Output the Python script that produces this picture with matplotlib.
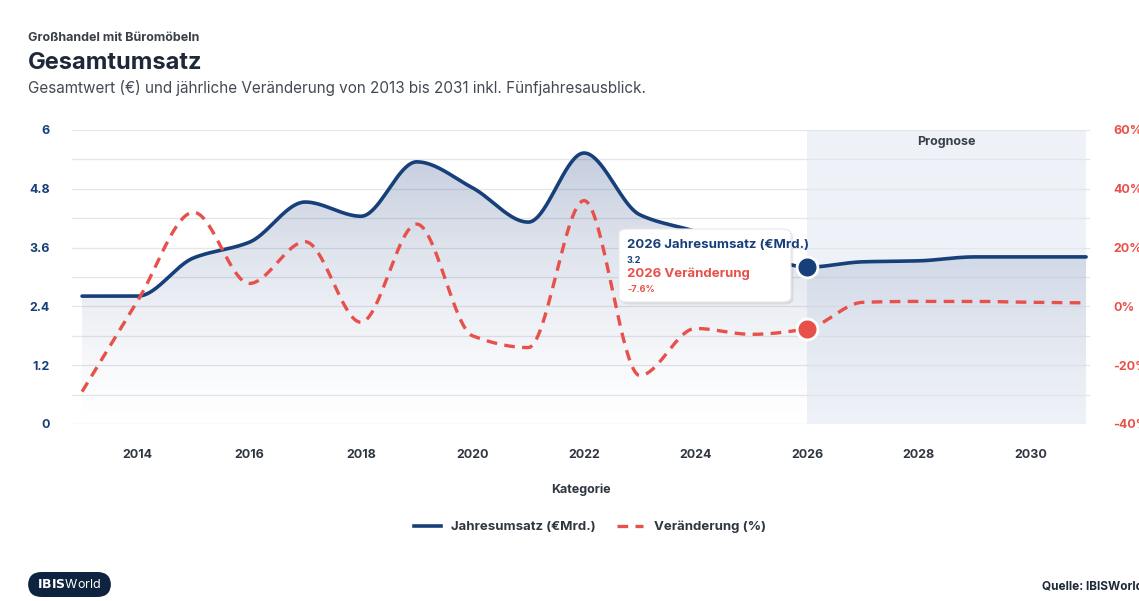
import numpy as np
import matplotlib.pyplot as plt
from matplotlib.patches import FancyBboxPatch
from matplotlib.lines import Line2D

plt.rcParams['font.family'] = ['Inter', 'DejaVu Sans']

# Daten
jahre = np.arange(2013, 2032)
umsatz = [2.61, 2.61, 3.39, 3.71, 4.53, 4.24, 5.35, 4.82, 4.12, 5.53,
          4.27, 3.93, 3.55, 3.2, 3.31, 3.33, 3.41, 3.41, 3.41]
veraenderung = [-29.0, 2.0, 32.0, 7.8, 22.0, -5.4, 28.0, -10.0, -14.0, 36.0,
                -23.5, -7.5, -9.5, -7.6, 1.4, 1.7, 1.7, 1.4, 1.2]
prognose_start = 2026
xticks = [2014, 2016, 2018, 2020, 2022, 2024, 2026, 2028, 2030]
yticks_links = [0, 1.2, 2.4, 3.6, 4.8, 6]
yticks_rechts = [-40, -20, 0, 20, 40, 60]

BLAU = '#173f7a'
ROT = '#e8504a'
GRAU = '#2f3640'

W, H = 1139, 601


def px(x, y):
    return x / W, 1 - y / H


# Monotone kubische Interpolation (wie Spline im Original)
def monotone_spline(x, y, n=40):
    x = np.asarray(x, float)
    y = np.asarray(y, float)
    h = np.diff(x)
    d = np.diff(y) / h
    m = np.zeros_like(y)
    m[0], m[-1] = d[0], d[-1]
    for i in range(1, len(y) - 1):
        if d[i - 1] * d[i] <= 0:
            m[i] = 0
        else:
            w1 = 2 * h[i] + h[i - 1]
            w2 = h[i] + 2 * h[i - 1]
            m[i] = (w1 + w2) / (w1 / d[i - 1] + w2 / d[i])
    xs, ys = [], []
    for i in range(len(x) - 1):
        t = np.linspace(0, 1, n, endpoint=False)
        h00 = 2 * t**3 - 3 * t**2 + 1
        h10 = t**3 - 2 * t**2 + t
        h01 = -2 * t**3 + 3 * t**2
        h11 = t**3 - t**2
        xs.append(x[i] + t * h[i])
        ys.append(h00 * y[i] + h10 * h[i] * m[i] + h01 * y[i + 1] + h11 * h[i] * m[i + 1])
    xs.append([x[-1]])
    ys.append([y[-1]])
    return np.concatenate(xs), np.concatenate(ys)


fig = plt.figure(figsize=(W / 100, H / 100), dpi=100)
l, b = px(72, 424)
r, t = px(1090, 130)
ax = fig.add_axes([l, b, r - l, t - b])
ax2 = ax.twinx()

xlim = (2012.82, 2031.07)
ax.set_xlim(*xlim)
ax.set_ylim(0, 6)
ax2.set_ylim(-40, 60)

for s in ax.spines.values():
    s.set_visible(False)
for s in ax2.spines.values():
    s.set_visible(False)

# Prognosebereich
ax.axvspan(prognose_start, jahre[-1], color='#eef1f7', zorder=0, lw=0)
ax.text((prognose_start + jahre[-1]) / 2, 5.75, 'Prognose', ha='center', va='center',
        fontsize=9, fontweight='bold', color='#3a3f48')

# Gitterlinien
for g in np.arange(0, 6.01, 0.6):
    ax.axhline(g, color='#e4e6ea', lw=0.9, zorder=1)

# Umsatz-Linie mit Verlaufsfläche
xs, ys = monotone_spline(jahre, umsatz)
poly = ax.fill_between(xs, ys, 0, color='none', lw=0)
grad = np.linspace(0, 1, 256).reshape(-1, 1)
rgba = np.zeros((256, 1, 4))
rgba[..., 0], rgba[..., 1], rgba[..., 2] = 0.16, 0.28, 0.52
rgba[..., 3] = 0.30 * grad[::-1] ** 1.3
img = ax.imshow(rgba, extent=[jahre[0], jahre[-1], 0, 6], aspect='auto', zorder=2,
                origin='upper')
img.set_clip_path(poly.get_paths()[0], transform=ax.transData)
ax.set_xlim(*xlim)
ax.set_ylim(0, 6)
ax.plot(xs, ys, color=BLAU, lw=2.6, zorder=3, solid_capstyle='round')

# Veränderung
xv, yv = monotone_spline(jahre, veraenderung)
ax2.plot(xv, yv, color=ROT, lw=2.4, ls=(0, (3.2, 2.2)), zorder=3)

# Marker 2026
i26 = list(jahre).index(2026)
ax.plot(2026, umsatz[i26], 'o', ms=15, color=BLAU, mec='white', mew=2, zorder=5, clip_on=False)
ax2.plot(2026, veraenderung[i26], 'o', ms=15, color=ROT, mec='white', mew=2, zorder=5, clip_on=False)

# Achsen
ax.set_xticks(xticks)
ax.set_xticklabels([str(x) for x in xticks], fontsize=9, fontweight='bold', color=GRAU)
ax.set_yticks(yticks_links)
ax.set_yticklabels(['0', '1.2', '2.4', '3.6', '4.8', '6'], fontsize=9, fontweight='bold', color=BLAU)
ax2.set_yticks(yticks_rechts)
ax2.set_yticklabels([f'{v}%' for v in yticks_rechts], fontsize=9, fontweight='bold', color=ROT)
ax.tick_params(axis='both', length=0, pad=16)
ax.tick_params(axis='x', pad=18)
ax2.tick_params(axis='y', length=0, pad=17)
ax.set_xlabel('Kategorie', fontsize=9, fontweight='bold', color=GRAU, labelpad=16)
ax.set_zorder(2)
ax2.set_zorder(3)
ax.patch.set_visible(False)

# Tooltip
x0, y0 = px(619, 302)
x1, y1 = px(791, 229)
shadow = FancyBboxPatch((x0 + 0.002, y0 - 0.004), x1 - x0, y1 - y0,
                        boxstyle='round,pad=0,rounding_size=0.008', transform=fig.transFigure,
                        fc='#000000', alpha=0.08, ec='none', zorder=10)
box = FancyBboxPatch((x0, y0), x1 - x0, y1 - y0,
                     boxstyle='round,pad=0,rounding_size=0.008', transform=fig.transFigure,
                     fc='white', ec='#e6e8ec', lw=0.8, zorder=11)
fig.patches.extend([shadow, box])
fig.text(*px(627, 245), '2026 Jahresumsatz (€Mrd.)', fontsize=9.5, fontweight='bold', color=BLAU, va='center', zorder=12)
fig.text(*px(627, 260), f'{umsatz[i26]}', fontsize=6.5, fontweight='bold', color=BLAU, va='center', zorder=12)
fig.text(*px(627, 274), '2026 Veränderung', fontsize=9.5, fontweight='bold', color=ROT, va='center', zorder=12)
fig.text(*px(627, 289), f'{veraenderung[i26]}%', fontsize=6.5, fontweight='bold', color=ROT, va='center', zorder=12)

# Titel
fig.text(*px(28, 38), 'Großhandel mit Büromöbeln', fontsize=9, fontweight='bold', color='#3a3f48', va='center')
fig.text(*px(28, 63), 'Gesamtumsatz', fontsize=17, fontweight='bold', color='#1e2838', va='center')
fig.text(*px(28, 88), 'Gesamtwert (€) und jährliche Veränderung von 2013 bis 2031 inkl. Fünfjahresausblick.',
         fontsize=11, color='#444a55', va='center')

# Legende
handles = [Line2D([], [], color=BLAU, lw=2.6),
           Line2D([], [], color=ROT, lw=2.4, ls=(0, (3.2, 2.2)))]
fig.legend(handles, ['Jahresumsatz (€Mrd.)', 'Veränderung (%)'], loc='center',
           bbox_to_anchor=px(590, 527), ncol=2, frameon=False, handlelength=2.0,
           columnspacing=1.6, prop={'size': 9.5, 'weight': 'bold'}, labelcolor=GRAU)

# Logo und Quelle
lx0, ly0 = px(28, 597)
lx1, ly1 = px(111, 572)
logo = FancyBboxPatch((lx0, ly0), lx1 - lx0, ly1 - ly0,
                      boxstyle='round,pad=0,rounding_size=0.012', transform=fig.transFigure,
                      fc='#0d2340', ec='none', mutation_aspect=W / H)
fig.patches.append(logo)
fig.text(*px(69.5, 585), r'$\bf{IBIS}$World', fontsize=9, color='white', ha='center', va='center')
fig.text(*px(1042, 587), 'Quelle: IBISWorld', fontsize=8.5, fontweight='bold', color='#1e2838', va='center')

plt.savefig('out.png', dpi=100)
